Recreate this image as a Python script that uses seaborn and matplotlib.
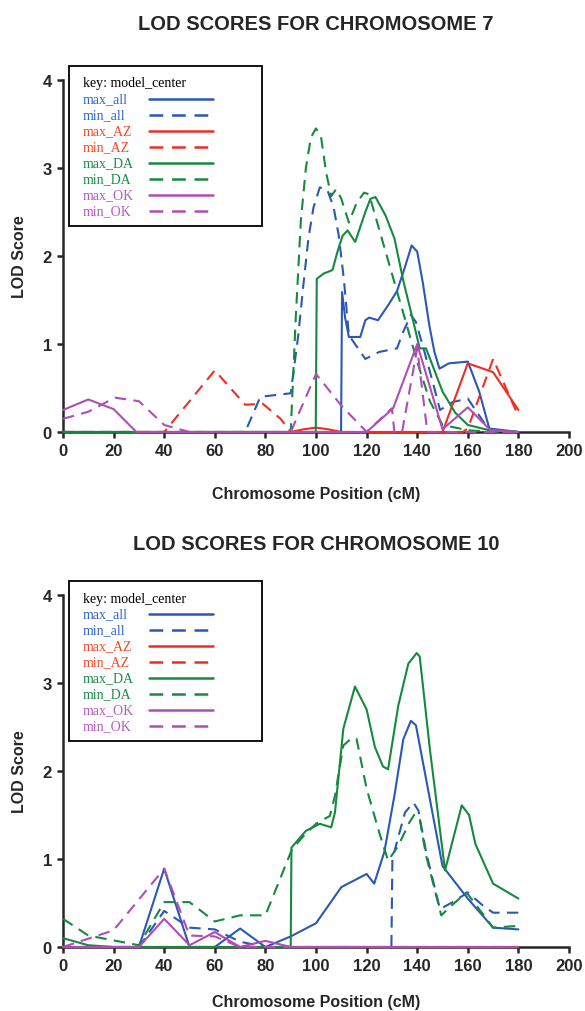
import matplotlib
matplotlib.use("Agg")
import matplotlib.pyplot as plt
import pandas as pd
import seaborn as sns
from matplotlib.patches import Rectangle

# chromosome 7 -- (position cM, LOD)
chr7_max_all_pos = [0, 109.9, 110.3, 111.5, 113, 117.5, 119.5, 121, 124.5, 128.5, 132, 135, 137.8, 140,
                    142.2, 144.8, 146.8, 148.8, 152.5, 160, 164.5, 168.5, 180]
chr7_max_all_lod = [0, 0, 1.59, 1.3, 1.08, 1.08, 1.27, 1.3, 1.27, 1.44, 1.6, 1.86, 2.12, 2.05,
                    1.70, 1.21, 0.91, 0.72, 0.78, 0.80, 0.46, 0.04, 0]
chr7_min_all_pos = [0, 72, 78, 90, 93, 95, 97, 99, 101.5, 104.5, 107, 109, 111, 113, 119.5, 125, 132,
                    134.5, 137.5, 139.5, 142.5, 146.5, 149, 154, 160, 163.5, 168.5, 180]
chr7_min_all_lod = [0, 0, 0.40, 0.44, 1.1, 1.67, 2.2, 2.55, 2.78, 2.75, 2.55, 2.23, 1.74, 1.10, 0.83, 0.91, 0.95,
                    1.14, 1.33, 1.25, 0.95, 0.53, 0.25, 0.34, 0.38, 0.23, 0.02, 0]
chr7_max_AZ_pos = [0, 90, 95, 100, 105, 110, 150, 160, 170, 180]
chr7_max_AZ_lod = [0, 0, 0.03, 0.05, 0.03, 0, 0, 0.78, 0.68, 0.25]
chr7_min_AZ_pos = [0, 40, 50, 60, 72, 79, 86, 90, 158, 160, 170, 180]
chr7_min_AZ_lod = [0, 0, 0.35, 0.70, 0.31, 0.32, 0.15, 0, 0, 0.04, 0.83, 0.18]
chr7_max_DA_pos = [0, 99.9, 100.3, 103, 106.5, 108.5, 110.5, 112.5, 115.5, 119.5, 121.5, 123.5, 127.5, 131,
                   134.5, 138.5, 141, 143.5, 150, 155, 160, 168.5, 180]
chr7_max_DA_lod = [0, 0, 1.74, 1.80, 1.84, 2.05, 2.23, 2.29, 2.16, 2.5, 2.65, 2.67, 2.46, 2.2,
                   1.72, 1.25, 0.95, 0.95, 0.46, 0.22, 0.08, 0.02, 0]
chr7_min_DA_pos = [0, 90, 92, 94, 96, 98, 100, 102, 104, 106, 108, 110, 113, 116, 119, 121, 124, 128,
                   132, 136, 140, 145, 150, 160, 170, 180]
chr7_min_DA_lod = [0, 0, 1.3, 2.4, 3.0, 3.35, 3.45, 3.35, 2.95, 2.68, 2.76, 2.65, 2.38, 2.6, 2.72, 2.7, 2.4, 2.0,
                   1.6, 1.2, 0.8, 0.35, 0.08, 0.02, 0, 0]
chr7_max_OK_pos = [0, 10, 20, 29, 120, 130.5, 140, 150, 160, 169, 180]
chr7_max_OK_lod = [0.25, 0.37, 0.26, 0, 0, 0.27, 1.0, 0.03, 0.28, 0.02, 0]
chr7_min_OK_pos = [0, 10, 20.5, 30, 40, 50, 90, 100, 110, 120, 130, 131, 134, 140, 144, 180]
chr7_min_OK_lod = [0.15, 0.23, 0.39, 0.35, 0.08, 0, 0, 0.66, 0.30, 0, 0.27, 0, 0, 0.95, 0, 0]

# chromosome 10
chr10_max_all_pos = [0, 30, 40, 50, 60, 70, 80, 90, 100, 110, 120, 123, 127, 131, 134.5, 137.5, 139.5,
                     143.5, 150, 160, 170, 180]
chr10_max_all_lod = [0, 0, 0.89, 0, 0, 0.21, 0, 0.12, 0.27, 0.68, 0.83, 0.72, 1.08, 1.72, 2.36, 2.57, 2.52,
                     1.91, 0.92, 0.55, 0.22, 0.20]
chr10_min_all_pos = [0, 30, 40, 50, 60, 70, 80, 129.8, 130.2, 133, 135.2, 138.5, 140.5, 143.5, 149, 154,
                     160, 166, 170, 180]
chr10_min_all_lod = [0, 0, 0.41, 0.22, 0.20, 0.06, 0, 0, 1.0, 1.3, 1.53, 1.64, 1.55, 1.08, 0.43, 0.51,
                     0.62, 0.47, 0.39, 0.39]
chr10_max_AZ_pos = [0, 180]
chr10_max_AZ_lod = [0, 0]
chr10_min_AZ_pos = [0, 180]
chr10_min_AZ_lod = [0, 0]
chr10_max_DA_pos = [0, 10, 20, 90, 90.3, 96, 101.5, 106, 107.5, 110.8, 115.4, 120, 123.3, 126.5, 128.5,
                    132.5, 136.5, 139.8, 141, 145, 151, 157.6, 160.5, 163, 170, 180]
chr10_max_DA_lod = [0.10, 0.02, 0, 0, 1.13, 1.32, 1.40, 1.36, 1.53, 2.48, 2.96, 2.70, 2.27, 2.05, 2.02,
                    2.74, 3.22, 3.34, 3.3, 2.25, 0.87, 1.61, 1.5, 1.17, 0.72, 0.55]
chr10_min_DA_pos = [0, 10, 30, 40, 50, 60, 70, 80, 90.5, 95, 100, 105.5, 107.5, 110.8, 114, 116, 120, 125,
                    128.5, 132.5, 137, 139, 141, 143.5, 149.5, 153.5, 159.5, 170, 180]
chr10_min_DA_lod = [0.32, 0.13, 0.02, 0.51, 0.51, 0.29, 0.36, 0.36, 1.11, 1.26, 1.40, 1.49, 1.72, 2.29, 2.37,
                    2.37, 1.80, 1.30, 0.98, 1.15, 1.42, 1.51, 1.45, 1.04, 0.36, 0.47, 0.62, 0.22, 0.24]
chr10_max_OK_pos = [0, 30, 40, 50, 60, 70, 80, 90, 180]
chr10_max_OK_lod = [0, 0, 0.32, 0.02, 0.17, 0, 0.07, 0, 0]
chr10_min_OK_pos = [0, 20, 40, 50, 60, 70, 80, 180]
chr10_min_OK_lod = [0, 0.19, 0.89, 0.13, 0.12, 0, 0, 0]

series_names = ["max_all", "min_all", "max_AZ", "min_AZ", "max_DA", "min_DA", "max_OK", "min_OK"]
x_ticks = [0, 20, 40, 60, 80, 100, 120, 140, 160, 180, 200]
y_ticks = [0, 1, 2, 3, 4]

line_colors = {"all": "#2b58b5", "AZ": "#ee2e24", "DA": "#16893f", "OK": "#b04db5"}
text_colors = {"all": "#3166c6", "AZ": "#f04a2c", "DA": "#1a8a4a", "OK": "#b55bc0"}
dash = (0, (5.5, 3.5))

chrom_data = {
    7: [(chr7_max_all_pos, chr7_max_all_lod), (chr7_min_all_pos, chr7_min_all_lod),
        (chr7_max_AZ_pos, chr7_max_AZ_lod), (chr7_min_AZ_pos, chr7_min_AZ_lod),
        (chr7_max_DA_pos, chr7_max_DA_lod), (chr7_min_DA_pos, chr7_min_DA_lod),
        (chr7_max_OK_pos, chr7_max_OK_lod), (chr7_min_OK_pos, chr7_min_OK_lod)],
    10: [(chr10_max_all_pos, chr10_max_all_lod), (chr10_min_all_pos, chr10_min_all_lod),
         (chr10_max_AZ_pos, chr10_max_AZ_lod), (chr10_min_AZ_pos, chr10_min_AZ_lod),
         (chr10_max_DA_pos, chr10_max_DA_lod), (chr10_min_DA_pos, chr10_min_DA_lod),
         (chr10_max_OK_pos, chr10_max_OK_lod), (chr10_min_OK_pos, chr10_min_OK_lod)],
}

# long table for seaborn
rows = []
for chrom, series in chrom_data.items():
    for name, (pos, lod) in zip(series_names, series):
        for i, (p, v) in enumerate(zip(pos, lod)):
            rows.append({"chrom": chrom, "series": name, "order": i, "pos": p, "lod": v})
df = pd.DataFrame(rows)

sns.set_style("ticks")
plt.rcParams["font.family"] = ["Liberation Sans", "DejaVu Sans"]

fig = plt.figure(figsize=(5.85, 10.12), dpi=100)
axes = {7: fig.add_axes([63 / 585, 1 - 433 / 1012, 506 / 585, 352 / 1012]),
        10: fig.add_axes([63 / 585, 1 - 948 / 1012, 506 / 585, 352 / 1012])}
title_y = {7: 1 - 25 / 1012, 10: 1 - 545 / 1012}
xlabel_pad = {7: 20, 10: 15}


def ax_frac(px, py):
    # pixel offset from the axes' top-left corner -> axes fraction
    return px / 506, 1 - py / 352


for chrom, ax in axes.items():
    for name in series_names:
        sub = df[(df["chrom"] == chrom) & (df["series"] == name)].sort_values("order")
        group = name.split("_")[1]
        ls = "-" if name.startswith("max") else dash
        sns.lineplot(data=sub, x="pos", y="lod", ax=ax, estimator=None, sort=False,
                     color=line_colors[group], linestyle=ls, linewidth=1.5,
                     clip_on=False, zorder=3, legend=False)

    ax.set_xlim(0, 200)
    ax.set_ylim(0, 4)
    ax.set_xticks(x_ticks)
    ax.set_yticks(y_ticks)
    sns.despine(ax=ax)
    for side in ["left", "bottom"]:
        ax.spines[side].set_linewidth(1.8)
    ax.tick_params(width=1.8, length=4, labelsize=12, pad=4)
    for lab in ax.get_xticklabels() + ax.get_yticklabels():
        lab.set_fontweight("bold")
    ax.set_xlabel("Chromosome Position (cM)", fontsize=11.5, fontweight="bold", labelpad=xlabel_pad[chrom])
    ax.set_ylabel("LOD Score", fontsize=11.5, fontweight="bold", labelpad=11)
    fig.text(316 / 585, title_y[chrom], f"LOD SCORES FOR CHROMOSOME {chrom}",
             ha="center", va="center", fontsize=14.5, fontweight="bold")

    # key box, drawn by hand so labels sit left-aligned with handles in one column
    x0, y0 = ax_frac(6, -14)
    x1, y1 = ax_frac(199, 146)
    ax.add_patch(Rectangle((x0, y1), x1 - x0, y0 - y1, transform=ax.transAxes, fill=True,
                           facecolor="white", edgecolor="black", linewidth=1.3, clip_on=False, zorder=4))
    tx, ty = ax_frac(20, 3)
    ax.text(tx, ty, "key: model_center", transform=ax.transAxes, ha="left", va="center",
            family="Liberation Serif", fontsize=10, color="black", zorder=5)
    for k, name in enumerate(series_names):
        group = name.split("_")[1]
        lx, ly = ax_frac(20, 19 + 16 * k)
        ax.text(lx, ly, name, transform=ax.transAxes, ha="left", va="center",
                family="Liberation Serif", fontsize=10, color=text_colors[group], zorder=5)
        hx0, hy = ax_frac(86, 19 + 16 * k)
        hx1, _ = ax_frac(150, 0)
        ax.plot([hx0, hx1], [hy, hy], transform=ax.transAxes, clip_on=False, zorder=5,
                color=line_colors[group], linewidth=1.8,
                linestyle="-" if name.startswith("max") else dash)

fig.savefig("out.png", dpi=100)
